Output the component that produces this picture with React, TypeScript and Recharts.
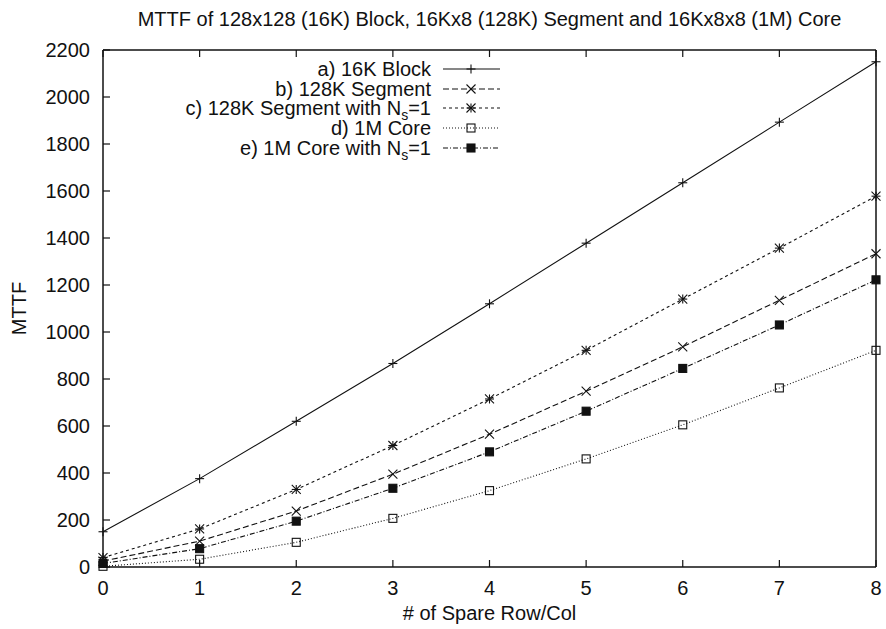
import React from "react";
import {
  LineChart,
  Line,
  XAxis,
  YAxis,
  Legend,
} from "recharts";

// values
const spares = [0, 1, 2, 3, 4, 5, 6, 7, 8];
const block16k = [150, 376, 620, 866, 1120, 1378, 1635, 1893, 2150];
const segment128k = [25, 110, 238, 395, 565, 748, 937, 1135, 1333];
const segment128kNs1 = [40, 162, 330, 517, 715, 922, 1140, 1357, 1578];
const core1m = [3, 33, 105, 207, 325, 460, 605, 762, 922];
const core1mNs1 = [15, 78, 195, 335, 490, 663, 845, 1030, 1222];

const xTicks = [0, 1, 2, 3, 4, 5, 6, 7, 8];
const yTicks = [0, 200, 400, 600, 800, 1000, 1200, 1400, 1600, 1800, 2000, 2200];

const seriesNames = [
  "a) 16K Block",
  "b) 128K Segment",
  "c) 128K Segment with Ns=1",
  "d) 1M Core",
  "e) 1M Core with Ns=1",
];

const title =
  "MTTF of 128x128 (16K) Block, 16Kx8 (128K) Segment and 16Kx8x8 (1M) Core";

const chartData = spares.map((s, i) => ({
  x: s,
  a: block16k[i],
  b: segment128k[i],
  c: segment128kNs1[i],
  d: core1m[i],
  e: core1mNs1[i],
}));

type MarkerKind = "plus" | "cross" | "star" | "box" | "fillbox";

const series: { key: string; dash?: string; marker: MarkerKind }[] = [
  { key: "a", marker: "plus" },
  { key: "b", dash: "6 3", marker: "cross" },
  { key: "c", dash: "3 3", marker: "star" },
  { key: "d", dash: "1 2", marker: "box" },
  { key: "e", dash: "5 2 1 2", marker: "fillbox" },
];

const INK = "#111";
const FONT = '"Liberation Sans", Arial, Helvetica, sans-serif';
const TICK = 7;

const Marker = ({ kind, cx, cy }: { kind: MarkerKind; cx: number; cy: number }) => {
  const s = 4.5;
  const p = { stroke: INK, strokeWidth: 1.1 };
  if (kind === "plus")
    return (
      <g>
        <line x1={cx - s} x2={cx + s} y1={cy} y2={cy} {...p} />
        <line x1={cx} x2={cx} y1={cy - s} y2={cy + s} {...p} />
      </g>
    );
  if (kind === "cross")
    return (
      <g>
        <line x1={cx - s} x2={cx + s} y1={cy - s} y2={cy + s} {...p} />
        <line x1={cx - s} x2={cx + s} y1={cy + s} y2={cy - s} {...p} />
      </g>
    );
  if (kind === "star")
    return (
      <g>
        <line x1={cx - s} x2={cx + s} y1={cy - s} y2={cy + s} {...p} />
        <line x1={cx - s} x2={cx + s} y1={cy + s} y2={cy - s} {...p} />
        <line x1={cx} x2={cx} y1={cy - s} y2={cy + s} {...p} />
        <line x1={cx - s} x2={cx + s} y1={cy} y2={cy} {...p} />
      </g>
    );
  if (kind === "box")
    return <rect x={cx - 4} y={cy - 4} width={8} height={8} fill="none" {...p} />;
  return <rect x={cx - 4} y={cy - 4} width={8} height={8} fill={INK} {...p} />;
};

const makeDot = (kind: MarkerKind) => (props: any) => {
  const { cx, cy, index } = props;
  if (cx == null || cy == null) return <g key={index} />;
  return <Marker key={index} kind={kind} cx={cx} cy={cy} />;
};

// ticks point inwards on all four sides, like gnuplot
const BottomTick = (props: any) => {
  const { x, y, payload } = props;
  return (
    <g>
      <line x1={x} x2={x} y1={y} y2={y - TICK} stroke={INK} strokeWidth={1.2} />
      <text x={x} y={y + 28} textAnchor="middle" fontSize={20} fill={INK}>
        {payload.value}
      </text>
    </g>
  );
};

const TopTick = (props: any) => {
  const { x, y } = props;
  return <line x1={x} x2={x} y1={y} y2={y + TICK} stroke={INK} strokeWidth={1.2} />;
};

const LeftTick = (props: any) => {
  const { x, y, payload } = props;
  return (
    <g>
      <line x1={x} x2={x + TICK} y1={y} y2={y} stroke={INK} strokeWidth={1.2} />
      <text x={x - 13} y={y + 7} textAnchor="end" fontSize={20} fill={INK}>
        {payload.value}
      </text>
    </g>
  );
};

const RightTick = (props: any) => {
  const { x, y } = props;
  return <line x1={x} x2={x - TICK} y1={y} y2={y} stroke={INK} strokeWidth={1.2} />;
};

const renderName = (name: string) => {
  if (name.endsWith("Ns=1")) {
    const head = name.slice(0, name.length - 4);
    return (
      <>
        {head}N
        <sub style={{ fontSize: 14, lineHeight: 0, verticalAlign: "-5px" }}>s</sub>
        =1
      </>
    );
  }
  return name;
};

const LegendBox = (props: any) => {
  const { payload } = props;
  return (
    <div style={{ width: 500, fontFamily: FONT }}>
      {(payload || []).map((entry: any) => {
        const cfg = series.find((s) => s.key === entry.dataKey) || series[0];
        return (
          <div
            key={entry.dataKey}
            style={{
              display: "flex",
              alignItems: "center",
              justifyContent: "flex-end",
              height: 19.75,
            }}
          >
            <span
              style={{
                fontSize: 20,
                lineHeight: "20px",
                whiteSpace: "nowrap",
                color: INK,
              }}
            >
              {renderName(entry.value)}
            </span>
            <svg width={57} height={20} style={{ marginLeft: 12, display: "block" }}>
              <line
                x1={0}
                x2={57}
                y1={10}
                y2={10}
                stroke={INK}
                strokeWidth={1.1}
                strokeDasharray={cfg.dash}
              />
              <Marker kind={cfg.marker} cx={28} cy={10} />
            </svg>
          </div>
        );
      })}
    </div>
  );
};

export default function App() {
  return (
    <div
      style={{
        position: "absolute",
        left: 0,
        top: 0,
        width: 886,
        height: 629,
        background: "#fff",
        fontFamily: FONT,
      }}
    >
      <LineChart
        width={886}
        height={629}
        data={chartData}
        margin={{ top: 0, right: 0, bottom: 0, left: 0 }}
      >
        <XAxis
          xAxisId="bottom"
          dataKey="x"
          type="number"
          domain={[0, 8]}
          ticks={xTicks}
          interval={0}
          height={62}
          tickSize={0}
          tickMargin={0}
          tickLine={false}
          tick={<BottomTick />}
          axisLine={{ stroke: INK, strokeWidth: 1.5 }}
          label={{
            value: "# of Spare Row/Col",
            position: "insideBottom",
            offset: 9,
            fontSize: 20,
            fill: INK,
          }}
        />
        <XAxis
          xAxisId="top"
          orientation="top"
          dataKey="x"
          type="number"
          domain={[0, 8]}
          ticks={xTicks}
          interval={0}
          height={50}
          tickSize={0}
          tickMargin={0}
          tickLine={false}
          tick={<TopTick />}
          axisLine={{ stroke: INK, strokeWidth: 1.5 }}
          label={{
            value: title,
            position: "insideTop",
            offset: 12,
            fontSize: 20,
            fill: INK,
          }}
        />
        <YAxis
          yAxisId="left"
          type="number"
          domain={[0, 2200]}
          ticks={yTicks}
          interval={0}
          width={103}
          tickSize={0}
          tickMargin={0}
          tickLine={false}
          tick={<LeftTick />}
          axisLine={{ stroke: INK, strokeWidth: 1.5 }}
          label={{
            value: "MTTF",
            angle: -90,
            position: "insideLeft",
            offset: 19,
            fontSize: 20,
            fill: INK,
            style: { textAnchor: "middle" },
          }}
        />
        <YAxis
          yAxisId="right"
          orientation="right"
          type="number"
          domain={[0, 2200]}
          ticks={yTicks}
          interval={0}
          width={10}
          tickSize={0}
          tickMargin={0}
          tickLine={false}
          tick={<RightTick />}
          axisLine={{ stroke: INK, strokeWidth: 1.5 }}
        />
        <Legend
          layout="vertical"
          align="center"
          verticalAlign="middle"
          content={<LegendBox />}
          wrapperStyle={{ left: 0, top: 59, width: 500, height: 100 }}
        />
        {series.map((s, i) => (
          <Line
            key={s.key}
            xAxisId="bottom"
            yAxisId="left"
            type="linear"
            dataKey={s.key}
            name={seriesNames[i]}
            stroke={INK}
            strokeWidth={1.1}
            strokeDasharray={s.dash}
            dot={makeDot(s.marker)}
            activeDot={false}
            isAnimationActive={false}
          />
        ))}
      </LineChart>
    </div>
  );
}
